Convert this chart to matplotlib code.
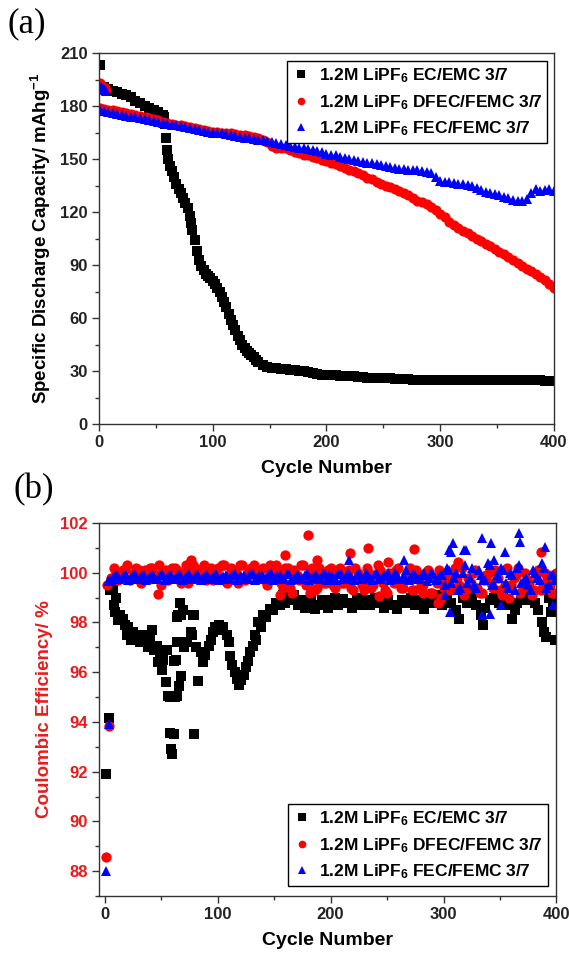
import numpy as np
import matplotlib
matplotlib.use("Agg")
import matplotlib.pyplot as plt
from matplotlib.ticker import MultipleLocator

plt.rcParams['font.family'] = ['Liberation Sans', 'DejaVu Sans']
plt.rcParams['font.weight'] = 'bold'
plt.rcParams['mathtext.fontset'] = 'custom'
plt.rcParams['mathtext.rm'] = 'Liberation Sans:bold'
plt.rcParams['mathtext.bf'] = 'Liberation Sans:bold'
plt.rcParams['mathtext.default'] = 'bf'

labels = [r"1.2M LiPF$_6$ EC/EMC 3/7",
          r"1.2M LiPF$_6$ DFEC/FEMC 3/7",
          r"1.2M LiPF$_6$ FEC/FEMC 3/7"]

# ---------------- (a) discharge capacity ----------------
cap_ec_cyc = [1, 4, 8, 12, 16, 20, 24, 28, 32, 36, 40, 44, 48, 52, 56, 57, 58, 59, 60, 61, 62,
              64, 66, 68, 70, 72, 74, 76, 78, 80, 81, 82, 84, 86, 88, 90, 92, 94, 96, 98, 100,
              102, 104, 106, 108, 110, 112, 114, 116, 118, 120, 122, 124, 126, 128, 130, 132,
              134, 136, 138, 140, 144, 148, 152, 156, 160, 164, 168, 172, 176, 180, 184, 188,
              192, 196, 200, 204, 208, 212, 216, 220, 224, 228, 232, 236, 240, 244, 248, 252,
              256, 260, 264, 268, 272, 276, 280, 284, 288, 292, 296, 300, 304, 308, 312, 316,
              320, 324, 328, 332, 336, 340, 344, 348, 352, 356, 360, 364, 368, 372, 376, 380,
              384, 388, 392, 396, 400]
cap_ec = [203, 191, 189.5, 188.5, 188, 187, 186, 185, 183, 181.5, 180, 179, 177.5, 176.5, 175,
          174, 170, 162, 155, 150, 146,
          143, 140, 136, 133, 131, 128, 125, 122, 118, 114, 110, 104, 98, 93, 89.5, 87, 85, 84,
          82.5, 81, 79, 77, 74.5, 72, 69, 66, 62.5, 59, 56, 53, 50, 47.5, 45, 43, 41.5, 40,
          39, 38, 36.5, 35, 33.5, 32, 31.5, 31.5, 31, 31, 30.5, 30.5, 30, 30, 29.5, 29,
          28.5, 28, 27.5, 27.5, 27.5, 27, 27, 27, 27, 26.5, 26.5, 26, 26, 26, 26, 26,
          26, 25.5, 25.5, 25.5, 25.5, 25, 25, 25, 25, 25, 25, 25, 25, 25, 25, 25,
          25, 25, 25, 25, 25, 25, 25, 25, 25, 25, 25, 25, 25, 25, 25, 25,
          25, 25, 24.5, 24.5, 24.5]

cap_cyc = [1] + list(range(4, 401, 4))
cap_dfec = [179, 178.5, 178, 177.5, 177, 176.5, 176, 175.5, 175, 174.5, 174, 173, 172.5, 172,
            171, 170.5, 170, 169.5, 169, 168.5, 168, 167.5, 167, 166.5, 166, 165.5, 165.5,
            165, 164.5, 164.5, 164, 163.5, 163.5, 163, 162.5, 162, 161, 159.5, 157.5, 156.5,
            156.5, 156, 155, 154, 153.5, 152.5, 152, 151, 150.5, 149.5, 149, 148, 147, 146,
            145, 144, 143, 142, 141, 139.5, 138.5, 137, 136, 135, 134, 133, 132, 131, 129.5,
            128, 126.5, 125.5, 124.5, 123, 121, 119, 117, 114.5, 112.5, 111, 109.5, 108,
            106.5, 105, 103.5, 102, 100.5, 99, 97.5, 96, 94.5, 93, 91, 89.5, 88, 86.5, 85,
            83, 81.5, 79.5, 77]
cap_fec = [177.5, 177, 176.5, 176, 175.5, 175, 174.5, 174, 173.5, 173, 172.5, 172, 171.5, 171,
           170.5, 170, 169.5, 169, 168.5, 168, 167.5, 167, 166.5, 166, 165.5, 165, 165, 164.5,
           164, 163.5, 163, 162.5, 162, 162, 161.5, 161, 160.5, 160, 159.5, 159, 158.5, 158,
           157.5, 157, 156.5, 156, 155.5, 155, 154.5, 154, 153, 152.5, 152, 151, 150.5, 150,
           149.5, 149, 148.5, 148, 147.5, 147, 146.5, 146, 145.5, 145, 144.5, 144.5, 144,
           143.5, 143.5, 143, 142.5, 142, 140, 137.5, 137, 137, 136.5, 136, 136, 135.5,
           134.5, 133.5, 132.5, 131.5, 131, 130, 129.5, 128.5, 128, 127, 126, 126, 127.5,
           131, 133, 132, 132.5, 133, 132]
# first formation cycles sit higher
form_cyc = [1, 2, 3, 4, 5, 6]
form_dfec = [193, 192, 191, 190.5, 190, 189]
form_fec = [191, 190.5, 190, 189.5, 189, 188.5]

# ---------------- (b) coulombic efficiency ----------------
ce_ec_cyc = [1, 4, 5, 7, 8, 9, 10, 12, 14, 16, 18, 20, 21, 23, 25, 27, 29, 31, 34, 36, 38, 40,
             42, 44, 46, 47, 49, 51, 52, 54, 55, 56, 58, 58, 59, 60, 61, 61, 62, 63, 64, 64,
             64, 65, 66, 67, 68, 68, 69, 70, 72, 73, 76, 77, 78, 79, 79, 81, 83, 85, 87, 89,
             92, 94, 96, 98, 101, 103, 105, 108, 110, 111, 113, 115, 117, 119, 121, 123, 125,
             127, 129, 131, 133, 134, 136, 138, 140, 143, 146, 149, 152, 155, 158, 160, 163,
             166, 168, 171, 174, 177, 180, 183, 186, 189, 192, 195, 198, 201, 204, 207, 211,
             215, 219, 223, 227, 231, 235, 239, 243, 247, 251, 255, 259, 263, 267, 271, 275,
             279, 283, 287, 291, 295, 299, 303, 307, 311, 314, 317, 321, 325, 329, 333, 335,
             337, 341, 345, 349, 353, 357, 361, 363, 365, 369, 373, 377, 381, 384, 387, 389,
             391, 393, 395, 397, 399]
ce_ec = [91.9, 94.15, 99.3, 99.4, 98.7, 98.4, 99.0, 98.1, 98.3, 98.15, 97.9, 97.5, 97.8, 97.3,
         97.6, 97.3, 97.5, 97.2, 97.5, 97.3, 97.0, 97.3, 97.7, 96.9, 97.07, 96.4, 96.8, 96.1,
         96.5, 95.6, 96.9, 95.05, 93.55, 95.0, 92.9, 92.7, 93.5, 96.46, 95.0, 96.5, 97.2, 95.05,
         98.2, 98.3, 95.45, 98.8, 95.85, 98.3, 98.5, 97.0, 97.2, 97.2, 97.6, 97.5, 98.3, 93.5,
         98.28, 97.0, 95.65, 96.8, 96.4, 96.7, 97.07, 97.3, 97.6, 97.8, 97.88, 97.7, 97.8, 97.5,
         97.2, 96.66, 96.3, 96.0, 95.72, 95.5, 95.7, 95.9, 96.2, 96.46, 96.8, 97.07, 97.5, 97.3,
         98.0, 97.8, 98.3, 98.2, 98.55, 98.5, 98.8, 98.7, 99.1, 98.8, 98.9, 99.0, 99.1, 98.7,
         98.9, 98.6, 98.8, 98.9, 98.55, 98.7, 98.9, 98.8, 98.6, 98.9, 99.0, 98.7, 98.95, 98.8,
         98.6, 99.0, 98.7, 98.9, 98.7, 99.0, 98.8, 98.6, 98.9, 98.7, 98.55, 98.9, 98.8, 99.0,
         98.7, 98.9, 98.55, 98.95, 98.8, 99.1, 98.7, 99.0, 98.8, 98.5, 98.15, 99.0, 98.8, 99.1,
         98.7, 98.3, 97.9, 98.6, 98.9, 99.0, 98.8, 99.1, 98.7, 98.15, 98.5, 98.8, 99.0, 98.9,
         99.1, 98.8, 98.5, 98.0, 97.6, 97.4, 99.0, 98.4, 98.8, 97.3]

ce_dfec_cyc = [1, 4] + list(range(2, 401, 4))
ce_dfec = [88.55, 93.85,
           99.5, 99.8, 100.0, 99.9, 100.1, 99.7, 100.0, 100.1, 99.8, 100.0, 100.2, 99.9, 99.5,
           100.1, 99.8, 100.2, 99.9, 100.0, 99.6, 100.3, 99.9, 100.1, 99.7, 100.2, 100.0,
           99.8, 100.3, 99.9, 100.1, 99.6, 100.3, 99.8, 100.2, 99.9, 100.1, 99.7, 100.3, 99.8,
           100.0, 99.4, 100.2, 99.2, 99.9, 100.3, 99.5, 100.0, 99.3, 100.2, 99.6, 100.1,
           99.5, 100.1, 99.6, 99.9, 99.4, 100.2, 99.7, 99.3, 100.0, 99.5, 100.3, 99.6, 99.2,
           99.9, 100.1, 99.4, 99.7, 100.2, 99.3, 99.8, 99.5, 100.1, 99.2, 99.6, 99.0,
           99.7, 99.3, 100.2, 99.5, 99.1, 99.8, 100.0, 99.4, 99.2, 99.9, 99.6, 100.1, 99.3,
           99.5, 99.0, 99.8, 100.2, 99.4, 99.7, 99.1, 99.9, 99.3, 100.0, 99.5, 99.2]
ce_dfec2_cyc = list(range(8, 401, 4))
ce_dfec2 = [100.2, 99.7, 100.1, 100.3, 99.8, 100.2, 99.6, 100.1, 100.2, 99.8, 100.3, 100.0,
            99.7, 100.2, 100.1, 99.6, 100.3, 100.0, 100.2, 99.8, 100.3, 100.1, 99.7, 100.2,
            100.3, 99.6, 100.2, 100.0, 100.3, 99.7, 100.1, 100.3, 99.8, 100.2, 99.5, 100.1,
            100.3, 99.6, 100.2, 99.4, 100.1, 99.7, 100.3, 99.5, 100.2, 99.4, 100.0, 99.6, 100.2,
            99.4, 100.2, 99.6, 100.1, 99.3, 100.0, 99.5, 100.2, 99.4, 99.8, 100.1, 99.3, 100.0,
            99.6, 100.2, 99.4, 99.9, 99.3, 100.1, 99.5, 100.0, 99.2, 99.8, 100.1, 99.4,
            100.0, 99.4, 99.8, 100.2, 99.3, 99.6, 100.1, 99.2, 99.7, 100.0, 99.4, 99.8, 99.1,
            100.2, 99.5, 99.9, 99.2, 100.0, 99.6, 99.3, 100.1, 99.5, 99.8, 99.2, 100.0]
dfec_out_cyc = [47, 76, 155, 160, 180, 182, 188, 217, 233, 243, 251, 274, 282, 295, 313, 386]
dfec_out = [99.15, 100.5, 99.1, 100.7, 101.5, 99.2, 100.5, 100.8, 101.0, 99.05, 100.45, 100.95,
            99.2, 98.8, 100.45, 100.85]

ce_fec_cyc = [1, 4] + list(range(3, 401, 4))
ce_fec = [88.0, 93.9,
          99.65, 99.8, 99.9, 99.8, 99.9, 99.8, 99.95, 99.8, 99.9, 99.8, 99.9, 99.75, 99.95, 99.8,
          99.9, 99.8, 99.9, 99.8, 99.95, 99.8, 99.9, 99.8, 99.9, 99.8, 99.95,
          99.8, 99.9, 99.8, 99.95, 99.8, 99.9, 99.75, 99.95, 99.8, 99.9, 99.8, 100.0, 99.8,
          99.9, 99.8, 99.95, 99.75, 99.9, 99.8, 100.0, 99.8, 99.9, 99.8, 99.95, 99.9,
          99.8, 99.95, 99.75, 100.0, 99.8, 99.9, 99.75, 100.0, 99.8, 99.95, 99.75, 99.9, 100.0,
          99.8, 99.9, 99.75, 100.1, 99.8, 99.9, 99.75, 100.0, 99.8, 99.95, 99.75, 99.9,
          100.2, 99.6, 100.0, 99.4, 100.3, 99.8, 99.5, 100.1, 99.7, 100.4, 99.5, 99.9, 100.2,
          99.6, 100.0, 99.3, 100.3, 99.7, 99.5, 100.1, 99.8, 100.4, 99.4, 99.9, 99.7]
ce_fec2_cyc = list(range(5, 401, 4))
ce_fec2 = [99.7, 99.85, 99.75, 99.9, 99.7, 99.85, 99.75, 99.9, 99.7, 99.85, 99.75, 99.9,
           99.7, 99.85, 99.75, 99.9, 99.7, 99.85, 99.75, 99.9, 99.7, 99.85, 99.75, 99.9,
           99.7, 99.85, 99.75, 99.9, 99.7, 99.85, 99.75, 99.95, 99.7, 99.85, 99.75, 99.9,
           99.7, 99.85, 99.75, 99.95, 99.7, 99.85, 99.75, 99.9, 99.7, 99.85, 99.75, 99.95, 99.7,
           99.85, 99.7, 99.95, 99.75, 99.85, 99.7, 100.0, 99.75, 99.85, 99.7, 99.95, 99.75,
           99.85, 99.7, 100.0, 99.75, 99.85, 99.7, 99.95, 99.75, 99.9, 99.65, 100.0, 99.7, 99.9,
           99.5, 100.1, 99.8, 99.3, 100.0, 99.6, 100.2, 99.4, 99.9, 99.7, 100.3, 99.5, 99.8,
           100.1, 99.4, 99.9, 100.2, 99.6, 99.8, 99.3, 100.0, 99.7, 100.2, 99.5, 99.9]
fec_out_cyc = [216, 265, 301, 305, 306, 307, 308, 318, 320, 334, 334, 341, 342, 345, 351, 354,
               367, 368, 390, 397]
fec_out = [100.5, 100.5, 99.1, 100.9, 98.4, 100.85, 101.2, 100.9, 100.9, 101.4, 98.3, 98.35,
           101.2, 100.5, 98.7, 100.85, 101.6, 101.25, 101.05, 98.7]

red = '#ff0000'
blue = '#0000ff'
lab_red = '#e81c1c'

fig = plt.figure(figsize=(5.69, 9.55), dpi=100)
ax1 = fig.add_axes([0.174, 0.556, 0.7996, 0.3885])
ax2 = fig.add_axes([0.174, 0.0618, 0.804, 0.3906])

ms = 7.3
ax1.plot(cap_ec_cyc, cap_ec, 's', color='black', ms=ms, mew=0, label=labels[0])
ax1.plot(cap_cyc, cap_dfec, 'o', color=red, ms=ms, mew=0, label=labels[1])
ax1.plot(form_cyc, form_dfec, 'o', color=red, ms=ms, mew=0)
ax1.plot(cap_cyc, cap_fec, '^', color=blue, ms=ms + 0.5, mew=0, label=labels[2])
ax1.plot(form_cyc, form_fec, '^', color=blue, ms=ms + 0.5, mew=0)

ax1.set_xlim(0, 400)
ax1.set_ylim(0, 210)
ax1.xaxis.set_major_locator(MultipleLocator(100))
ax1.xaxis.set_minor_locator(MultipleLocator(50))
ax1.yaxis.set_major_locator(MultipleLocator(30))
ax1.yaxis.set_minor_locator(MultipleLocator(15))
ax1.set_xlabel("Cycle Number", fontsize=14, fontweight='bold', labelpad=7)
ax1.set_ylabel(r"Specific Discharge Capacity/ mAhg$^{-1}$", fontsize=13.5, fontweight='bold',
               labelpad=5)

ms2 = 7.0
ax2.plot(ce_ec_cyc, ce_ec, 's', color='black', ms=ms2, mew=0, label=labels[0])
ax2.plot(ce_dfec_cyc, ce_dfec, 'o', color=red, ms=ms2 + 0.4, mew=0, label=labels[1])
ax2.plot(ce_dfec2_cyc, ce_dfec2, 'o', color=red, ms=ms2 + 0.4, mew=0)
ax2.plot(dfec_out_cyc, dfec_out, 'o', color=red, ms=ms2 + 0.4, mew=0)
ax2.plot(ce_fec_cyc, ce_fec, '^', color=blue, ms=ms2 + 0.8, mew=0, label=labels[2])
ax2.plot(ce_fec2_cyc, ce_fec2, '^', color=blue, ms=ms2 + 0.8, mew=0)
ax2.plot(fec_out_cyc, fec_out, '^', color=blue, ms=ms2 + 0.8, mew=0)

ax2.set_xlim(-5, 400)
ax2.set_ylim(87, 102)
ax2.xaxis.set_major_locator(MultipleLocator(100))
ax2.xaxis.set_minor_locator(MultipleLocator(50))
ax2.yaxis.set_major_locator(MultipleLocator(2))
ax2.yaxis.set_minor_locator(MultipleLocator(1))
ax2.set_xlabel("Cycle Number", fontsize=14, fontweight='bold', labelpad=7)
ax2.set_ylabel("Coulombic Efficiency/ %", fontsize=13.5, fontweight='bold', color=lab_red,
               labelpad=5)

for ax in (ax1, ax2):
    for sp in ax.spines.values():
        sp.set_linewidth(1.0)
        sp.set_color('#333333')
    ax.tick_params(which='both', direction='out', top=False, right=False, width=1.0,
                   color='#333333', labelsize=12, pad=3)
    ax.tick_params(which='major', length=5)
    ax.tick_params(which='minor', length=3)
    for t in ax.get_xticklabels() + ax.get_yticklabels():
        t.set_fontweight('bold')
        t.set_color('#222222')
for t in ax2.get_yticklabels():
    t.set_color(lab_red)

leg_kw = dict(frameon=True, fancybox=False, edgecolor='black', fontsize=12.5,
              handletextpad=0.5, borderpad=0.3, labelspacing=0.45, handlelength=1.0,
              borderaxespad=0.3, markerscale=0.75)
lg1 = ax1.legend(loc='upper right', bbox_to_anchor=(0.997, 0.992), **leg_kw)
lg2 = ax2.legend(loc='lower right', bbox_to_anchor=(0.993, 0.012), **leg_kw)
for lg in (lg1, lg2):
    lg.get_frame().set_linewidth(1.0)
    lg.get_frame().set_alpha(1)

fig.text(0.014, 0.992, "(a)", family='Liberation Serif', fontweight='normal', fontsize=25,
         va='top', ha='left')
fig.text(0.024, 0.505, "(b)", family='Liberation Serif', fontweight='normal', fontsize=25,
         va='top', ha='left')

fig.savefig("out.png", dpi=100)
